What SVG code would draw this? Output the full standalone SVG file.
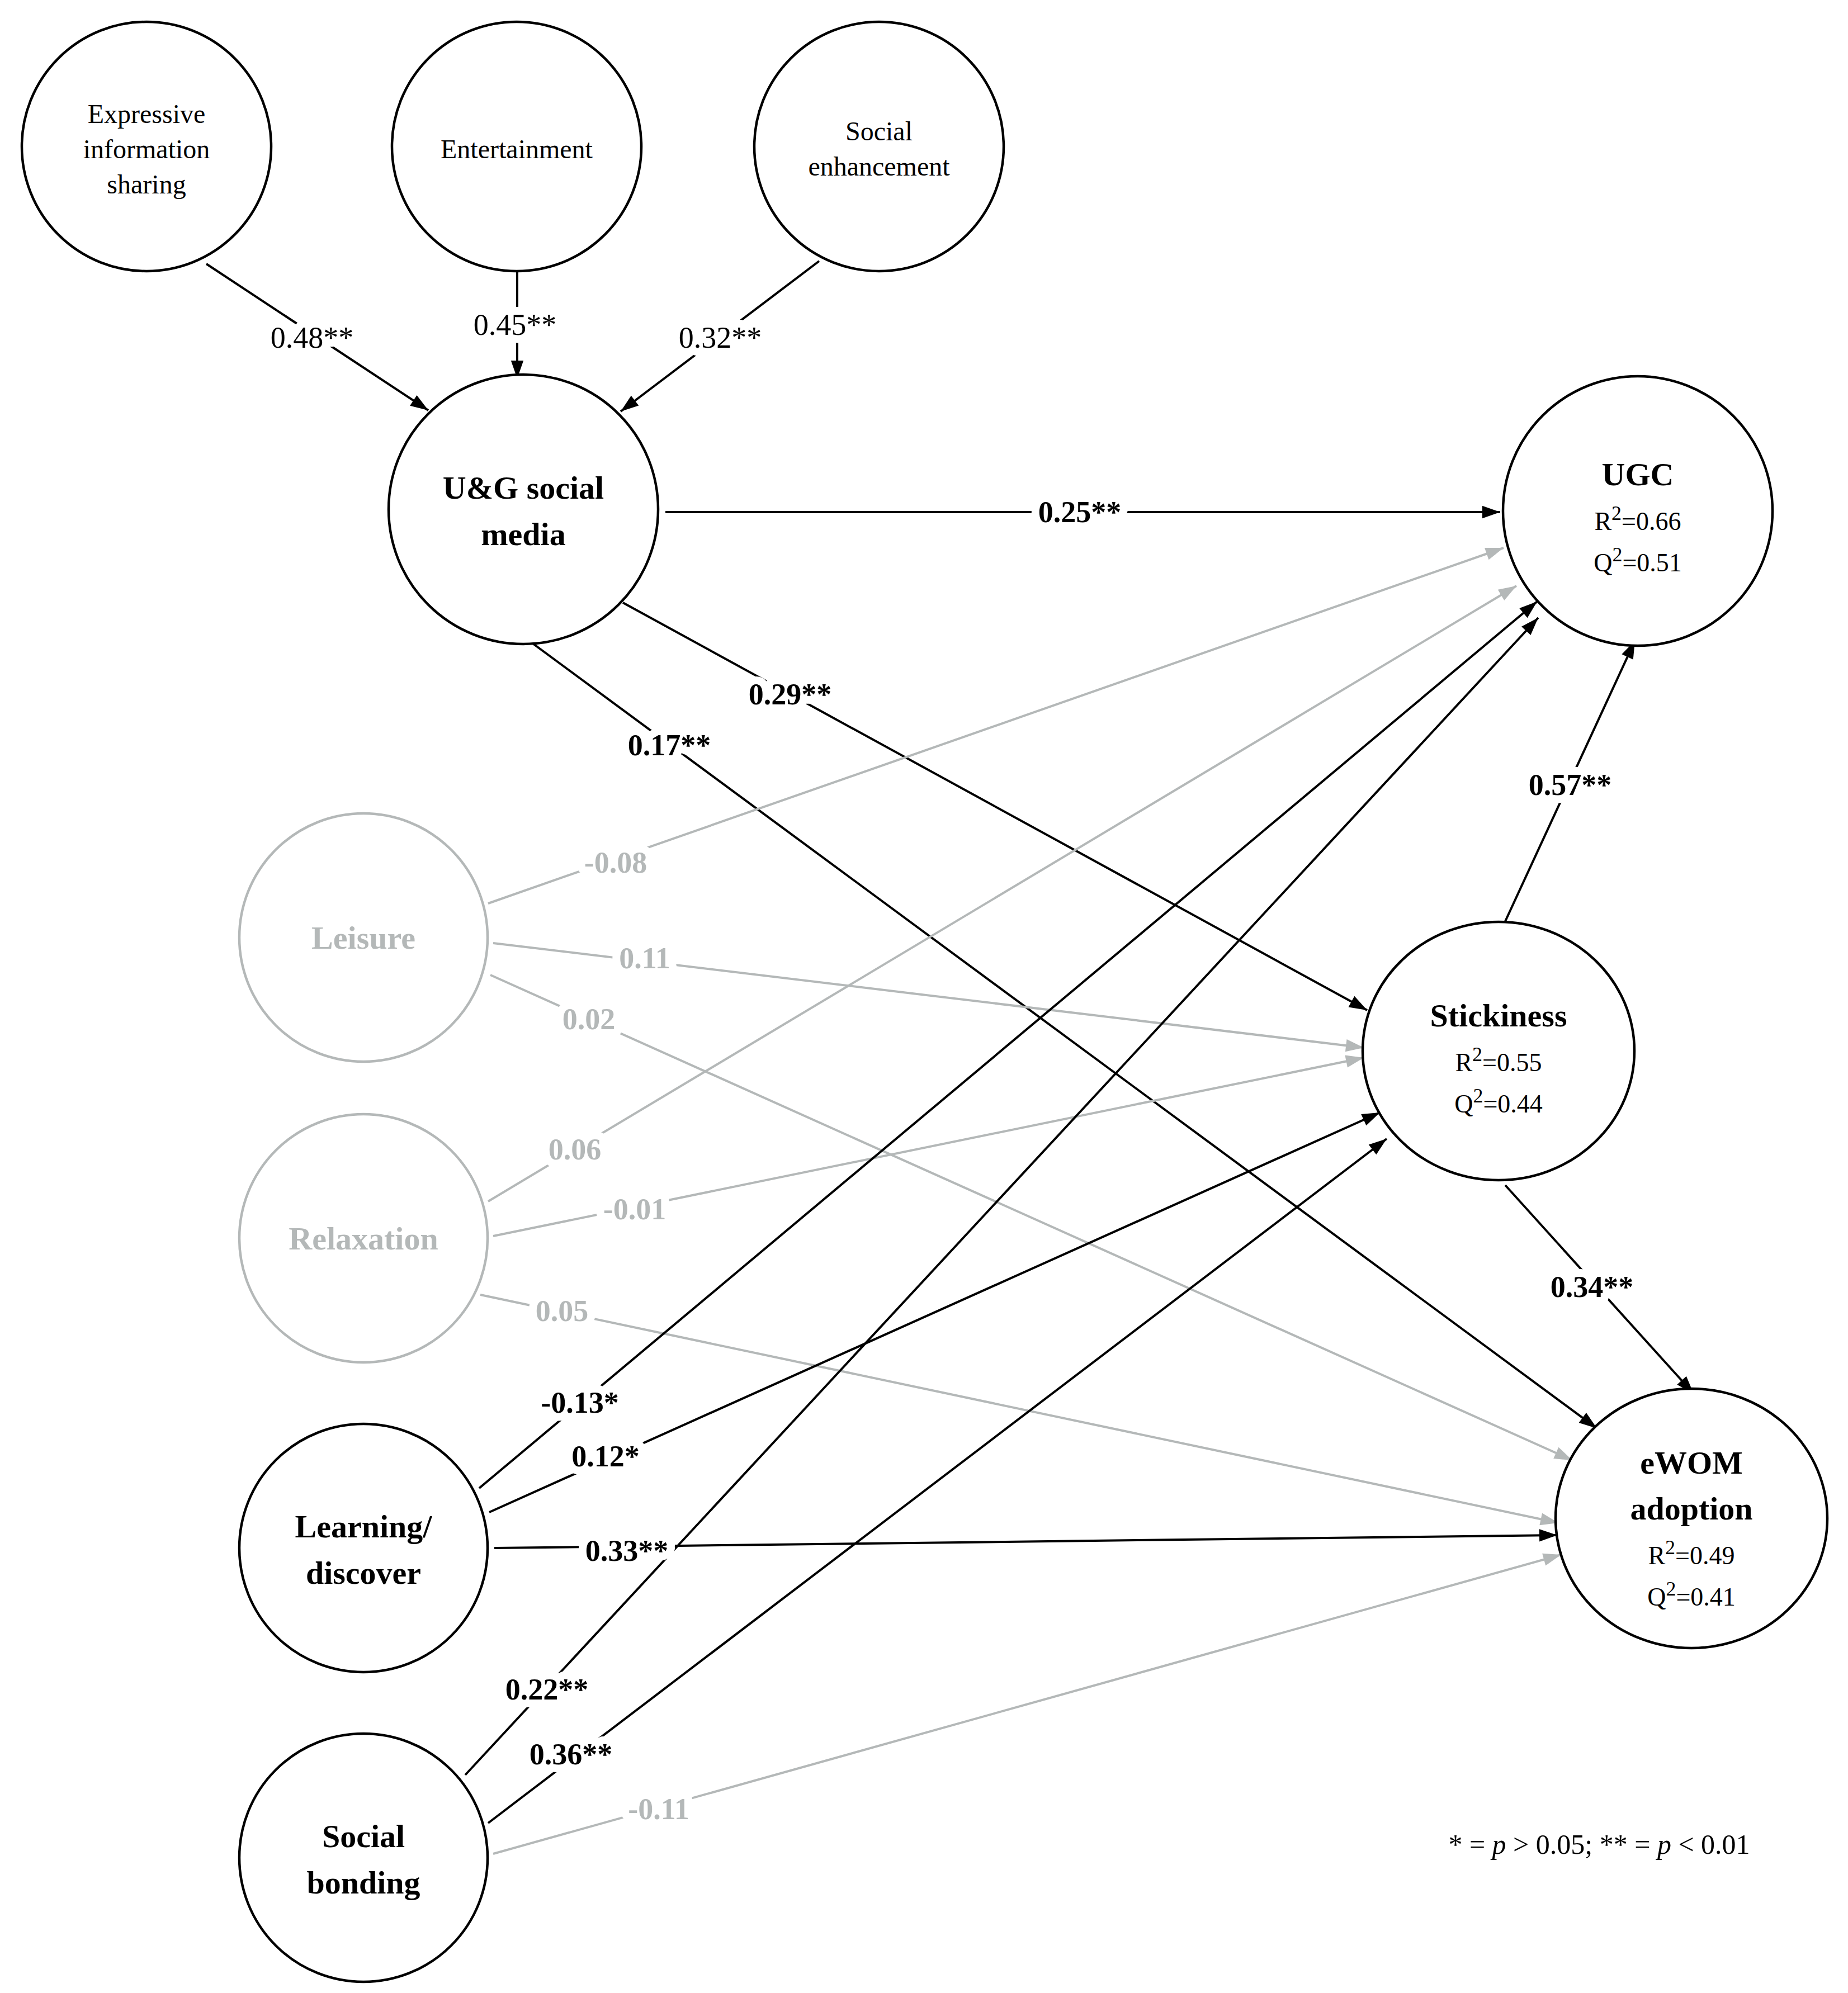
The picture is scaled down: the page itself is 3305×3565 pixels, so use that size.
<svg xmlns="http://www.w3.org/2000/svg" width="3305" height="3565" viewBox="0 0 3305 3565">
<style>
text{font-family:"Liberation Serif","Times New Roman",serif;text-anchor:middle}
.n{fill:#fff;stroke:#000;stroke-width:4.5}
.g{fill:#fff;stroke:#b4b8b8;stroke-width:4.5}
.t{font-size:48px}
.b{font-size:58px;font-weight:bold}
.bg{font-size:58px;font-weight:bold;fill:#b4b8b8}
.s{font-size:46px}
.e{stroke:#000;stroke-width:4;fill:none;marker-end:url(#ab)}
.eg{stroke:#b4b8b8;stroke-width:4;fill:none;marker-end:url(#ag)}
.l{font-size:54px;paint-order:stroke;stroke:#fff;stroke-width:28px;stroke-linejoin:round}
.lb{font-size:54px;font-weight:bold;paint-order:stroke;stroke:#fff;stroke-width:28px;stroke-linejoin:round}
.lg{font-size:54px;font-weight:bold;fill:#b4b8b8;paint-order:stroke;stroke:#fff;stroke-width:28px;stroke-linejoin:round}
</style>
<defs>
<marker id="ab" viewBox="0 0 10 10" refX="10" refY="5" markerWidth="12" markerHeight="8" markerUnits="strokeWidth" orient="auto"><path d="M0,1.5 L10,5 L0,8.5 z" fill="#000"/></marker>
<marker id="ag" viewBox="0 0 10 10" refX="10" refY="5" markerWidth="12" markerHeight="8" markerUnits="strokeWidth" orient="auto"><path d="M0,1.5 L10,5 L0,8.5 z" fill="#b4b8b8"/></marker>
</defs>
<rect width="3305" height="3565" fill="#fff"/>
<g id="connectors">
<line class="e" x1="369" y1="472" x2="766" y2="734"/>
<line class="e" x1="925" y1="485" x2="925" y2="677"/>
<line class="e" x1="1465" y1="467" x2="1110" y2="736"/>
<line class="e" x1="1190" y1="916" x2="2683" y2="916"/>
<line class="e" x1="1114" y1="1078" x2="2445" y2="1807"/>
<line class="e" x1="946" y1="1146" x2="2856" y2="2555"/>
<line class="e" x1="2692" y1="1648" x2="2924" y2="1146"/>
<line class="e" x1="2692" y1="2120" x2="3029" y2="2493"/>
<line class="eg" x1="873" y1="1616" x2="2689" y2="980"/>
<line class="eg" x1="882" y1="1687" x2="2439" y2="1874"/>
<line class="eg" x1="877" y1="1744" x2="2812" y2="2612"/>
<line class="eg" x1="873" y1="2149" x2="2712" y2="1048"/>
<line class="eg" x1="882" y1="2211" x2="2439" y2="1892"/>
<line class="eg" x1="859" y1="2316" x2="2787" y2="2724"/>
<line class="e" x1="857" y1="2662" x2="2749" y2="1076"/>
<line class="e" x1="875" y1="2705" x2="2468" y2="1990"/>
<line class="e" x1="884" y1="2769" x2="2785" y2="2746"/>
<line class="e" x1="832" y1="3175" x2="2751" y2="1105"/>
<line class="e" x1="873" y1="3261" x2="2480" y2="2037"/>
<line class="eg" x1="882" y1="3316" x2="2792" y2="2781"/>
<text class="l" x="558" y="622">0.48**</text>
<text class="l" x="921" y="599">0.45**</text>
<text class="l" x="1288" y="622">0.32**</text>
<text class="lb" x="1931" y="934">0.25**</text>
<text class="lb" x="1413" y="1260">0.29**</text>
<text class="lb" x="1197" y="1351">0.17**</text>
<text class="lb" x="2808" y="1422">0.57**</text>
<text class="lb" x="2847" y="2320">0.34**</text>
<text class="lg" x="1101" y="1561">-0.08</text>
<text class="lg" x="1153" y="1732">0.11</text>
<text class="lg" x="1053" y="1841">0.02</text>
<text class="lg" x="1028" y="2074">0.06</text>
<text class="lg" x="1135" y="2181">-0.01</text>
<text class="lg" x="1005" y="2363">0.05</text>
<text class="lb" x="1037" y="2527">-0.13*</text>
<text class="lb" x="1083" y="2623">0.12*</text>
<text class="lb" x="1121" y="2792">0.33**</text>
<text class="lb" x="978" y="3040">0.22**</text>
<text class="lb" x="1021" y="3156">0.36**</text>
<text class="lg" x="1178" y="3254">-0.11</text>
</g>
<g id="expressive"><circle class="n" cx="262" cy="262" r="223"/><text class="t" x="262" y="220">Expressive</text><text class="t" x="262" y="283">information</text><text class="t" x="262" y="346">sharing</text></g>
<g id="entertainment"><circle class="n" cx="924" cy="262" r="223"/><text class="t" x="924" y="283">Entertainment</text></g>
<g id="social-enhancement"><circle class="n" cx="1572" cy="262" r="223"/><text class="t" x="1572" y="251">Social</text><text class="t" x="1572" y="314">enhancement</text></g>
<g id="ug"><circle class="n" cx="936" cy="911" r="241"/><text class="b" x="936" y="892">U&amp;G social</text><text class="b" x="936" y="975">media</text></g>
<g id="ugc"><circle class="n" cx="2929" cy="914" r="241"/><text class="b" x="2929" y="868">UGC</text><text class="s" x="2929" y="948">R<tspan dy="-18" font-size="36">2</tspan><tspan dy="18">=0.66</tspan></text><text class="s" x="2929" y="1022">Q<tspan dy="-18" font-size="36">2</tspan><tspan dy="18">=0.51</tspan></text></g>
<g id="stickiness"><ellipse class="n" cx="2680" cy="1880" rx="243" ry="231"/><text class="b" x="2680" y="1836">Stickiness</text><text class="s" x="2680" y="1916">R<tspan dy="-18" font-size="36">2</tspan><tspan dy="18">=0.55</tspan></text><text class="s" x="2680" y="1990">Q<tspan dy="-18" font-size="36">2</tspan><tspan dy="18">=0.44</tspan></text></g>
<g id="ewom"><ellipse class="n" cx="3025" cy="2716" rx="243" ry="232"/><text class="b" x="3025" y="2636">eWOM</text><text class="b" x="3025" y="2718">adoption</text><text class="s" x="3025" y="2798">R<tspan dy="-18" font-size="36">2</tspan><tspan dy="18">=0.49</tspan></text><text class="s" x="3025" y="2872">Q<tspan dy="-18" font-size="36">2</tspan><tspan dy="18">=0.41</tspan></text></g>
<g id="leisure"><circle class="g" cx="650" cy="1677" r="222"/><text class="bg" x="650" y="1697">Leisure</text></g>
<g id="relaxation"><circle class="g" cx="650" cy="2215" r="222"/><text class="bg" x="650" y="2235">Relaxation</text></g>
<g id="learning"><circle class="n" cx="650" cy="2769" r="222"/><text class="b" x="650" y="2750">Learning/</text><text class="b" x="650" y="2833">discover</text></g>
<g id="social-bonding"><circle class="n" cx="650" cy="3323" r="222"/><text class="b" x="650" y="3304">Social</text><text class="b" x="650" y="3387">bonding</text></g>
<text x="2860" y="3316" font-size="50">* = <tspan font-style="italic">p</tspan> &gt; 0.05; ** = <tspan font-style="italic">p</tspan> &lt; 0.01</text>
</svg>
